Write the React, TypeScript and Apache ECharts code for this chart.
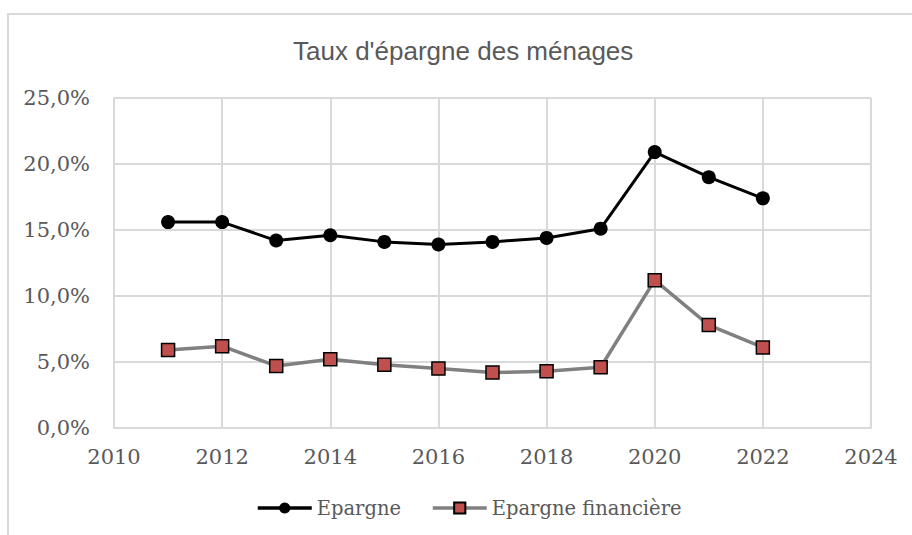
import React, { useEffect, useRef } from "react";
import * as echarts from "echarts";

const years = [2011, 2012, 2013, 2014, 2015, 2016, 2017, 2018, 2019, 2020, 2021, 2022];
const epargne = [15.6, 15.6, 14.2, 14.6, 14.1, 13.9, 14.1, 14.4, 15.1, 20.9, 19.0, 17.4];
const epargneFin = [5.9, 6.2, 4.7, 5.2, 4.8, 4.5, 4.2, 4.3, 4.6, 11.2, 7.8, 6.1];
const seriesNames = ["Epargne", "Epargne financière"];
const title = "Taux d'épargne des ménages";

export default function App() {
  const ref = useRef<HTMLDivElement>(null);
  useEffect(() => {
    if (!ref.current) return;
    const chart = echarts.init(ref.current, null, { renderer: "svg" });
    const serif = "DejaVu Serif";
    const grey = "#595959";
    chart.setOption({
      animation: false,
      backgroundColor: "#ffffff",
      title: {
        text: title,
        left: 288,
        top: 33,
        textStyle: { fontFamily: "Liberation Sans", fontSize: 26, fontWeight: "normal", color: grey },
      },
      graphic: [
        {
          type: "rect",
          shape: { x: 8, y: 14, width: 1000, height: 1000 },
          style: { fill: "none", stroke: "#d9d9d9", lineWidth: 2 },
          silent: true,
        },
      ],
      legend: {
        bottom: 12,
        left: 251,
        itemWidth: 54,
        itemHeight: 14,
        itemGap: 30,
        lineStyle: { width: 3.5 },
        textStyle: { fontFamily: serif, fontSize: 19.5, color: grey },
        data: seriesNames,
      },
      grid: { left: 114, right: 41, top: 98, bottom: 107, containLabel: false },
      xAxis: {
        type: "value",
        min: 2010,
        max: 2024,
        interval: 2,
        axisLine: { show: true, lineStyle: { color: "#d9d9d9", width: 2 } },
        axisTick: { show: false },
        splitLine: { show: true, lineStyle: { color: "#d9d9d9", width: 2 } },
        axisLabel: { fontFamily: serif, fontSize: 21, color: grey, margin: 18, formatter: (v: number) => String(v) },
      },
      yAxis: {
        type: "value",
        min: 0,
        max: 25,
        interval: 5,
        axisLine: { show: true, lineStyle: { color: "#d9d9d9", width: 2 } },
        axisTick: { show: false },
        splitLine: { show: true, lineStyle: { color: "#d9d9d9", width: 2 } },
        axisLabel: {
          fontFamily: serif,
          fontSize: 21,
          color: grey,
          margin: 24,
          formatter: (v: number) => v.toFixed(1).replace(".", ",") + "%",
        },
      },
      series: [
        {
          name: seriesNames[0],
          type: "line",
          data: years.map((y, i) => [y, epargne[i]]),
          symbol: "circle",
          symbolSize: 14,
          lineStyle: { color: "#000000", width: 3 },
          itemStyle: { color: "#000000" },
          z: 3,
        },
        {
          name: seriesNames[1],
          type: "line",
          data: years.map((y, i) => [y, epargneFin[i]]),
          symbol: "rect",
          symbolSize: 13,
          lineStyle: { color: "#808080", width: 3.5 },
          itemStyle: { color: "#c0504d", borderColor: "#000000", borderWidth: 1.5 },
          z: 2,
        },
      ],
    });
    return () => chart.dispose();
  }, []);
  return <div ref={ref} style={{ position: "fixed", left: 0, top: 0, width: 912, height: 535 }} />;
}
